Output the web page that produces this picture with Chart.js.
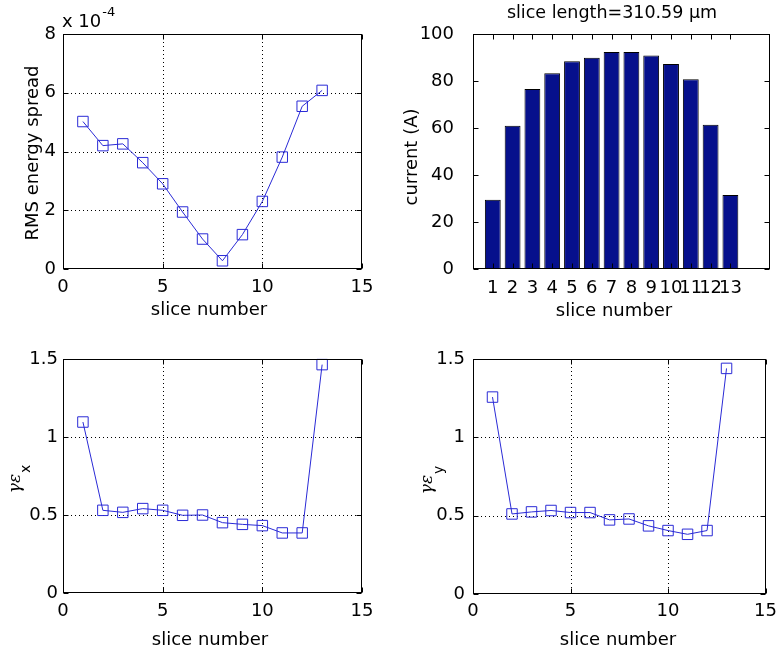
<!DOCTYPE html>
<html>
<head>
<meta charset="utf-8">
<script src="https://cdn.jsdelivr.net/npm/chart.js@4.4.0/dist/chart.umd.min.js"></script>
<style>
  html, body { margin: 0; padding: 0; background: #fff; }
  #fig { position: relative; width: 784px; height: 653px; }
  #fig canvas { position: absolute; }
</style>
</head>
<body>
<div id="fig">
  <canvas id="spread" width="392" height="326" style="left:0;top:0"></canvas>
  <canvas id="current" width="392" height="326" style="left:392px;top:0"></canvas>
  <canvas id="emitx" width="392" height="327" style="left:0;top:326px"></canvas>
  <canvas id="emity" width="392" height="327" style="left:392px;top:326px"></canvas>
</div>
<script>
// Slice diagnostics of the bunch
const slices = [1, 2, 3, 4, 5, 6, 7, 8, 9, 10, 11, 12, 13];
const energySpread = [5.02e-4, 4.20e-4, 4.26e-4, 3.62e-4, 2.90e-4, 1.94e-4, 1.02e-4, 0.28e-4, 1.17e-4, 2.30e-4, 3.81e-4, 5.54e-4, 6.08e-4];
const currentA = [29.5, 61.0, 76.6, 83.3, 88.4, 89.9, 92.3, 92.3, 90.9, 87.2, 80.7, 61.4, 31.5];
const emitX = [1.096, 0.530, 0.517, 0.541, 0.530, 0.498, 0.500, 0.451, 0.440, 0.432, 0.385, 0.385, 1.464];
const emitY = [1.257, 0.511, 0.524, 0.533, 0.520, 0.520, 0.473, 0.479, 0.435, 0.405, 0.381, 0.405, 1.440];

// Axis ticks
const sliceTicks = [0, 5, 10, 15];
const spreadTicks = [0, 2e-4, 4e-4, 6e-4, 8e-4];
const currentTicks = [0, 20, 40, 60, 80, 100];
const emitTicks = [0, 0.5, 1, 1.5];

const FONT = "'DejaVu Sans', 'Liberation Sans', sans-serif";
const LINE_BLUE = '#2a2ad6';
const BAR_BLUE = '#06108c';

Chart.defaults.font.family = FONT;
Chart.defaults.font.size = 18;
Chart.defaults.color = '#000';
Chart.defaults.animation = false;
Chart.defaults.devicePixelRatio = 1;

// Box frame, inward tick marks, dotted grid and free text
function decor(cfg) {
  return {
    id: 'decor',
    beforeDatasetsDraw(chart) {
      if (!cfg.grid) return;
      const { ctx, chartArea: a, scales: { x, y } } = chart;
      ctx.save();
      ctx.strokeStyle = '#000';
      ctx.lineWidth = 1;
      ctx.setLineDash([1, 3]);
      x.ticks.forEach(t => {
        if (t.value <= x.min || t.value >= x.max) return;
        const p = Math.round(x.getPixelForValue(t.value)) + 0.5;
        ctx.beginPath(); ctx.moveTo(p, a.top); ctx.lineTo(p, a.bottom); ctx.stroke();
      });
      y.ticks.forEach(t => {
        if (t.value <= y.min || t.value >= y.max) return;
        const p = Math.round(y.getPixelForValue(t.value)) + 0.5;
        ctx.beginPath(); ctx.moveTo(a.left, p); ctx.lineTo(a.right, p); ctx.stroke();
      });
      ctx.restore();
    },
    afterDatasetsDraw(chart) {
      const { ctx, chartArea: a, scales: { x, y } } = chart;
      const L = Math.round(a.left) + 0.5, R = Math.round(a.right) - 0.5;
      const T = Math.round(a.top) + 0.5, B = Math.round(a.bottom) - 0.5;
      const len = 5;
      ctx.save();
      ctx.strokeStyle = '#000';
      ctx.lineWidth = 1;
      ctx.beginPath();
      x.ticks.forEach(t => {
        const p = Math.round(x.getPixelForValue(t.value)) + 0.5;
        ctx.moveTo(p, B); ctx.lineTo(p, B - len);
        ctx.moveTo(p, T); ctx.lineTo(p, T + len);
      });
      y.ticks.forEach(t => {
        const p = Math.round(y.getPixelForValue(t.value)) + 0.5;
        ctx.moveTo(L, p); ctx.lineTo(L + len, p);
        ctx.moveTo(R, p); ctx.lineTo(R - len, p);
      });
      ctx.stroke();
      ctx.strokeRect(L, T, R - L, B - T);
      ctx.restore();
    },
    afterDraw(chart) {
      const ctx = chart.ctx;
      (cfg.texts || []).forEach(item => {
        ctx.save();
        ctx.fillStyle = '#000';
        ctx.font = item.font || `18px ${FONT}`;
        const mainW = ctx.measureText(item.text).width;
        let scriptW = 0;
        if (item.script) {
          ctx.font = item.script.font;
          scriptW = ctx.measureText(item.script.text).width + 1;
        }
        ctx.translate(item.x, item.y);
        if (item.rotate) ctx.rotate(-Math.PI / 2);
        let start = 0;
        if (item.align === 'center') start = -(mainW + scriptW) / 2;
        ctx.textBaseline = item.baseline || 'alphabetic';
        ctx.textAlign = 'left';
        ctx.font = item.font || `18px ${FONT}`;
        ctx.fillText(item.text, start, 0);
        if (item.script) {
          ctx.font = item.script.font;
          ctx.fillText(item.script.text, start + mainW + 1, item.script.dy);
        }
        ctx.restore();
      });
    }
  };
}

function fixedTicks(values) {
  return scale => { scale.ticks = values.map(v => ({ value: v })); };
}

function axes(o) {
  return {
    x: {
      type: 'linear', min: 0, max: 15, offset: false,
      grid: { display: false, drawTicks: false },
      border: { display: false },
      afterBuildTicks: fixedTicks(o.xTicks),
      afterFit: s => { s.height = o.xHeight; },
      ticks: { autoSkip: false, maxRotation: 0, padding: o.xPad }
    },
    y: {
      type: 'linear', min: o.yMin, max: o.yMax,
      grid: { display: false, drawTicks: false },
      border: { display: false },
      afterBuildTicks: fixedTicks(o.yTicks),
      afterFit: s => { s.width = o.yWidth; },
      ticks: { padding: o.yPad, callback: o.yFmt || (v => String(v)) }
    }
  };
}

function lineSet(values) {
  return {
    data: slices.map((s, i) => ({ x: s, y: values[i] })),
    borderColor: LINE_BLUE,
    borderWidth: 1,
    tension: 0,
    pointStyle: 'rect',
    pointRadius: 7.4,
    pointBorderWidth: 1,
    pointBorderColor: LINE_BLUE,
    pointBackgroundColor: 'rgba(0,0,0,0)',
    clip: false
  };
}

const common = {
  responsive: false,
  events: [],
  plugins: { legend: { display: false }, tooltip: { enabled: false }, title: { display: false } }
};

const gammaFont = `italic 17px 'DejaVu Serif', serif`;
const subFont = `14px ${FONT}`;

// RMS energy spread per slice
new Chart(document.getElementById('spread'), {
  type: 'line',
  data: { datasets: [lineSet(energySpread)] },
  options: {
    ...common,
    layout: { padding: { top: 34, right: 30, left: 0, bottom: 0 } },
    scales: axes({ xTicks: sliceTicks, yTicks: spreadTicks, yMin: 0, yMax: 8e-4,
                   xHeight: 57, yWidth: 63, xPad: 8, yPad: 7,
                   yFmt: v => String(Math.round(v * 1e4)) })
  },
  plugins: [decor({ grid: true, texts: [
    { text: 'RMS energy spread', x: 33, y: 153, rotate: true, align: 'center', baseline: 'middle' },
    { text: 'slice number', x: 209, y: 315, align: 'center' },
    { text: 'x 10', x: 62, y: 27, script: { text: '-4', font: `13px ${FONT}`, dy: -11 } }
  ] })]
});

// Current per slice
new Chart(document.getElementById('current'), {
  type: 'bar',
  data: { datasets: [{
    data: slices.map((s, i) => ({ x: s, y: currentA[i] })),
    backgroundColor: BAR_BLUE,
    borderColor: '#000',
    borderWidth: 1,
    barPercentage: 1,
    categoryPercentage: 0.8
  }] },
  options: {
    ...common,
    layout: { padding: { top: 34, right: 14, left: 0, bottom: 0 } },
    scales: axes({ xTicks: slices, yTicks: currentTicks, yMin: 0, yMax: 100,
                   xHeight: 57, yWidth: 81, xPad: 9, yPad: 19 })
  },
  plugins: [decor({ grid: false, texts: [
    { text: 'slice length=310.59 \u03bcm', x: 220, y: 18, align: 'center', font: `17.5px ${FONT}` },
    { text: 'current (A)', x: 20, y: 157, rotate: true, align: 'center', baseline: 'middle' },
    { text: 'slice number', x: 222, y: 316, align: 'center' }
  ] })]
});

// Normalised horizontal emittance per slice
new Chart(document.getElementById('emitx'), {
  type: 'line',
  data: { datasets: [lineSet(emitX)] },
  options: {
    ...common,
    layout: { padding: { top: 33, right: 30, left: 0, bottom: 0 } },
    scales: axes({ xTicks: sliceTicks, yTicks: emitTicks, yMin: 0, yMax: 1.5,
                   xHeight: 60, yWidth: 63, xPad: 8, yPad: 5 })
  },
  plugins: [decor({ grid: true, texts: [
    { text: '\u03b3\u03b5', x: 16, y: 153, rotate: true, align: 'center', baseline: 'middle',
      font: gammaFont, script: { text: 'x', font: subFont, dy: 10 } },
    { text: 'slice number', x: 210, y: 319, align: 'center' }
  ] })]
});

// Normalised vertical emittance per slice
new Chart(document.getElementById('emity'), {
  type: 'line',
  data: { datasets: [lineSet(emitY)] },
  options: {
    ...common,
    layout: { padding: { top: 33, right: 14, left: 0, bottom: 0 } },
    scales: axes({ xTicks: sliceTicks, yTicks: emitTicks, yMin: 0, yMax: 1.5,
                   xHeight: 59, yWidth: 81, xPad: 7, yPad: 8 })
  },
  plugins: [decor({ grid: true, texts: [
    { text: '\u03b3\u03b5', x: 36, y: 154, rotate: true, align: 'center', baseline: 'middle',
      font: gammaFont, script: { text: 'y', font: subFont, dy: 11 } },
    { text: 'slice number', x: 226, y: 319, align: 'center' }
  ] })]
});
</script>
</body>
</html>
